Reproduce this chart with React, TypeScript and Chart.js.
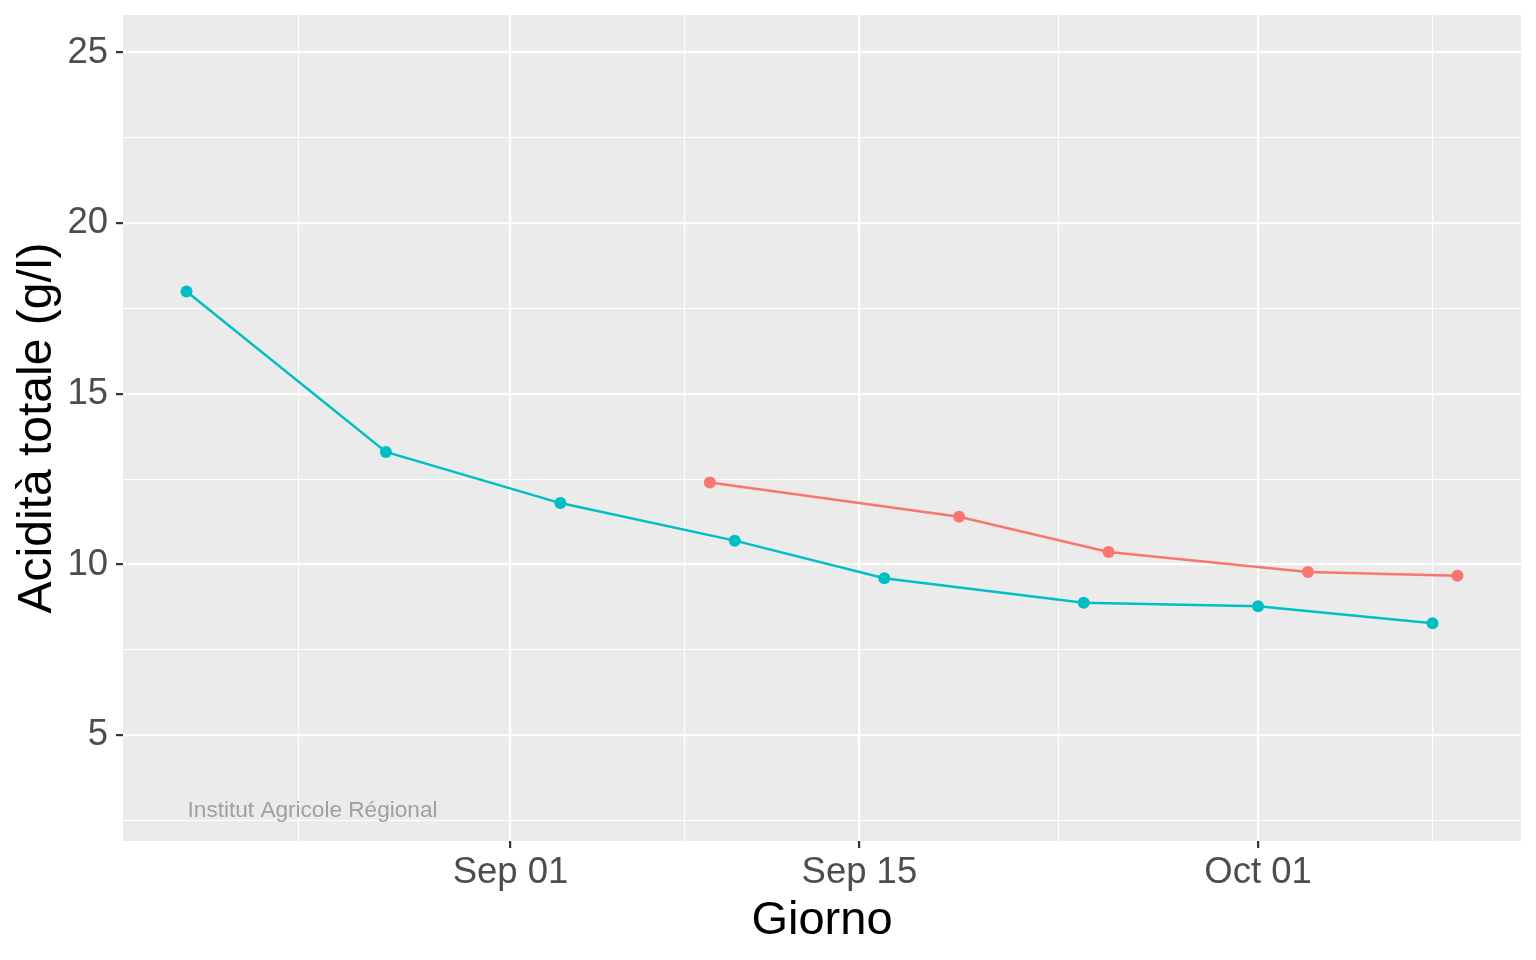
import { useEffect, useRef } from "react";
import { Chart, ChartConfiguration, registerables } from "chart.js";

Chart.register(...registerables);

// Acidità totale per giorno, due serie (colori ggplot di default)
const blueDates = [
  "2023-08-19", "2023-08-27", "2023-09-03", "2023-09-10",
  "2023-09-16", "2023-09-24", "2023-10-01", "2023-10-08",
];
const blueValues = [18.0, 13.3, 11.8, 10.7, 9.6, 8.88, 8.78, 8.28];

const redDates = ["2023-09-09", "2023-09-19", "2023-09-25", "2023-10-03", "2023-10-09"];
const redValues = [12.4, 11.4, 10.37, 9.78, 9.67];

// date breaks (incl. the outer ones used only for minor gridlines)
const xBreakDates = ["2023-08-15", "2023-09-01", "2023-09-15", "2023-10-01", "2023-10-15"];
const xTickLabels = ["Aug 15", "Sep 01", "Sep 15", "Oct 01", "Oct 15"];
const yMajorTicks = [5, 10, 15, 20, 25];
const yLimits = [3, 25];

const ORIGIN = Date.parse("2023-09-01");
const toDay = (d: string) => (Date.parse(d) - ORIGIN) / 86400000;

const blueDays = blueDates.map(toDay);
const redDays = redDates.map(toDay);
const xBreaks = xBreakDates.map(toDay);
const xMinor = xBreaks.slice(1).map((v, i) => (v + xBreaks[i]) / 2);

const allDays = [...blueDays, ...redDays];
const dMin = Math.min(...allDays);
const dMax = Math.max(...allDays);
const xPad = (dMax - dMin) * 0.05;
const xMin = dMin - xPad;
const xMax = dMax + xPad;

const yPad = (yLimits[1] - yLimits[0]) * 0.05;
const yMin = yLimits[0] - yPad;
const yMax = yLimits[1] + yPad;
const yMinor = yMajorTicks.map((v) => v - 2.5);

const FONT = "'Liberation Sans', Arial, Helvetica, sans-serif";

const isMajorX = (v: number) => xBreaks.some((b) => Math.abs(b - v) < 1e-6) && v > xMin && v < xMax;
const isMajorY = (v: number) => yMajorTicks.includes(v);

const panelBackground = {
  id: "panelBackground",
  beforeDraw(chart: Chart) {
    const { ctx, chartArea } = chart;
    ctx.save();
    ctx.fillStyle = "#EBEBEB";
    ctx.fillRect(chartArea.left, chartArea.top, chartArea.right - chartArea.left, chartArea.bottom - chartArea.top);
    ctx.restore();
  },
};

const watermark = {
  id: "watermark",
  afterDatasetsDraw(chart: Chart) {
    const { ctx, scales } = chart;
    ctx.save();
    ctx.font = `22.6px ${FONT}`;
    ctx.fillStyle = "#A0A0A0";
    ctx.textAlign = "left";
    ctx.textBaseline = "middle";
    ctx.fillText("Institut Agricole Régional", scales.x.getPixelForValue(dMin) + 1, scales.y.getPixelForValue(2.78));
    ctx.restore();
  },
};

export default function App() {
  const chartRef = useRef<HTMLCanvasElement>(null);
  const chartInstance = useRef<Chart | null>(null);

  useEffect(() => {
    document.body.style.margin = "0";
    if (!chartRef.current) return;
    if (chartInstance.current) chartInstance.current.destroy();

    const config: ChartConfiguration = {
      type: "line",
      data: {
        datasets: [
          {
            label: "A",
            data: redDays.map((x, i) => ({ x, y: redValues[i] })),
            borderColor: "#F8766D",
            backgroundColor: "#F8766D",
            borderWidth: 2.5,
            pointRadius: 6,
            pointBorderWidth: 0,
            tension: 0,
          },
          {
            label: "B",
            data: blueDays.map((x, i) => ({ x, y: blueValues[i] })),
            borderColor: "#00BFC4",
            backgroundColor: "#00BFC4",
            borderWidth: 2.5,
            pointRadius: 6,
            pointBorderWidth: 0,
            tension: 0,
          },
        ],
      },
      options: {
        responsive: false,
        animation: false,
        layout: { padding: { left: 0, right: 15, top: 15, bottom: 0 } },
        plugins: {
          legend: { display: false },
          tooltip: { enabled: false },
        },
        scales: {
          x: {
            type: "linear",
            min: xMin,
            max: xMax,
            border: { display: false },
            afterBuildTicks: (scale: any) => {
              const vals = [...xBreaks, ...xMinor].filter((v) => v > xMin && v < xMax).sort((a, b) => a - b);
              scale.ticks = vals.map((value) => ({ value }));
            },
            afterFit: (scale: any) => {
              scale.height = 119;
              scale.paddingLeft = 0;
              scale.paddingRight = 0;
            },
            grid: {
              color: "#FFFFFF",
              lineWidth: (ctx: any) => (isMajorX(ctx.tick?.value) ? 2.2 : 1.1),
              tickColor: (ctx: any) => (isMajorX(ctx.tick?.value) ? "#333333" : "rgba(0,0,0,0)"),
              tickWidth: 2.2,
              tickLength: 7,
            },
            ticks: {
              autoSkip: false,
              maxRotation: 0,
              padding: 3,
              color: "#4D4D4D",
              font: { family: FONT, size: 36.5 },
              callback: (value: any) => {
                const i = xBreaks.findIndex((b) => Math.abs(b - value) < 1e-6);
                return i >= 0 ? xTickLabels[i] : "";
              },
            },
            title: {
              display: true,
              text: "Giorno",
              color: "#000000",
              font: { family: FONT, size: 47 },
              padding: { top: 0, bottom: 11 },
            },
          },
          y: {
            type: "linear",
            min: yMin,
            max: yMax,
            border: { display: false },
            afterBuildTicks: (scale: any) => {
              const vals = [...yMajorTicks, ...yMinor].filter((v) => v > yMin && v < yMax).sort((a, b) => a - b);
              scale.ticks = vals.map((value) => ({ value }));
            },
            afterFit: (scale: any) => {
              scale.width = 123;
              scale.paddingTop = 0;
              scale.paddingBottom = 0;
            },
            grid: {
              color: "#FFFFFF",
              lineWidth: (ctx: any) => (isMajorY(ctx.tick?.value) ? 2.2 : 1.1),
              tickColor: (ctx: any) => (isMajorY(ctx.tick?.value) ? "#333333" : "rgba(0,0,0,0)"),
              tickWidth: 2.2,
              tickLength: 7,
            },
            ticks: {
              autoSkip: false,
              padding: 8,
              color: "#4D4D4D",
              font: { family: FONT, size: 36.5 },
              callback: (value: any) => (isMajorY(value) ? String(value) : ""),
            },
            title: {
              display: true,
              text: "Acidità totale (g/l)",
              color: "#000000",
              font: { family: FONT, size: 48 },
              padding: { top: 9, bottom: 0 },
            },
          },
        },
      },
      plugins: [panelBackground, watermark],
    };

    chartInstance.current = new Chart(chartRef.current, config);

    return () => {
      if (chartInstance.current) {
        chartInstance.current.destroy();
        chartInstance.current = null;
      }
    };
  }, []);

  return (
    <div style={{ width: 1536, height: 960 }}>
      <canvas ref={chartRef} width={1536} height={960} style={{ display: "block" }}></canvas>
    </div>
  );
}
